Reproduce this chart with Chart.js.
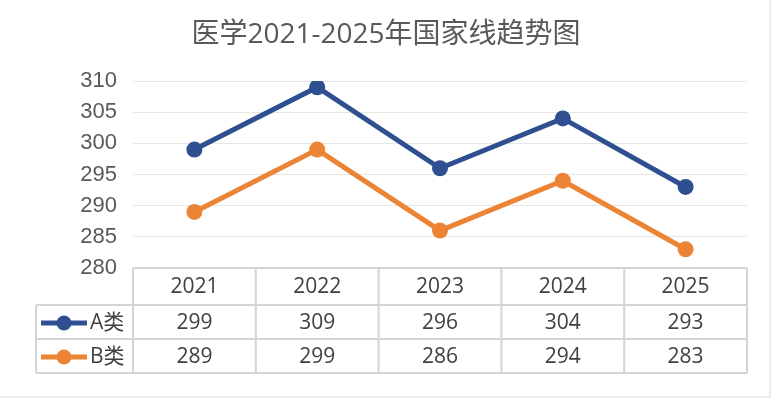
<!DOCTYPE html>
<html>
<head>
<meta charset="utf-8">
<script src="https://cdn.jsdelivr.net/npm/chart.js@4"></script>
<style>
  html, body { margin: 0; padding: 0; background: #fff; }
  #wrap { width: 772px; height: 399px; }
</style>
</head>
<body>
<div id="wrap"><canvas id="grafico"></canvas></div>
<script>
// dados do gráfico
const titulo = '医学2021-2025年国家线趋势图';
const anos = ['2021', '2022', '2023', '2024', '2025'];
const nomesSeries = ['A类', 'B类'];
const valoresA = [299, 309, 296, 304, 293];
const valoresB = [289, 299, 286, 294, 283];
const coresSeries = ['#2E5090', '#EB8435'];

const fonte = '"Open Sans", "Noto Sans CJK SC", sans-serif';
const corTexto = '#404040';
const corBorda = '#d4d4d4';

// desenha título e tabela de dados abaixo do gráfico
const tabelaPlugin = {
  id: 'tabela',
  afterDraw(chart) {
    const ctx = chart.ctx;
    const area = chart.chartArea;
    const xScale = chart.scales.x;
    const passo = xScale.getPixelForValue(1) - xScale.getPixelForValue(0);
    const esquerda = 36;
    const topo = area.bottom;
    const linhas = [topo, topo + 37, topo + 71, topo + 105];

    ctx.save();
    // borda leve da área do gráfico
    ctx.strokeStyle = '#ececec';
    ctx.lineWidth = 2;
    ctx.beginPath();
    ctx.moveTo(770, 0); ctx.lineTo(770, 397); ctx.lineTo(0, 397);
    ctx.stroke();

    ctx.fillStyle = '#595959';
    ctx.font = '28px ' + fonte;
    ctx.textAlign = 'center';
    ctx.textBaseline = 'middle';
    ctx.fillText(titulo, chart.width / 2, 35);

    // bordas
    ctx.strokeStyle = corBorda;
    ctx.lineWidth = 2;
    ctx.beginPath();
    ctx.moveTo(area.left, linhas[0]); ctx.lineTo(area.right, linhas[0]);
    for (let i = 1; i < linhas.length; i++) {
      ctx.moveTo(esquerda, linhas[i]); ctx.lineTo(area.right, linhas[i]);
    }
    ctx.moveTo(esquerda, linhas[1]); ctx.lineTo(esquerda, linhas[3]);
    for (let i = 0; i <= anos.length; i++) {
      const x = xScale.getPixelForValue(0) - passo / 2 + i * passo;
      ctx.moveTo(x, linhas[0]); ctx.lineTo(x, linhas[3]);
    }
    ctx.stroke();

    // textos
    ctx.fillStyle = corTexto;
    ctx.font = '21px ' + fonte;
    anos.forEach((ano, i) => {
      ctx.fillText(ano, xScale.getPixelForValue(i), (linhas[0] + linhas[1]) / 2 + 1);
    });
    chart.data.datasets.forEach((ds, s) => {
      const y = (linhas[s + 1] + linhas[s + 2]) / 2 + 1;
      ds.data.forEach((v, i) => {
        ctx.fillStyle = corTexto;
        ctx.fillText(String(v), xScale.getPixelForValue(i), y);
      });
      // legenda
      ctx.strokeStyle = ds.borderColor;
      ctx.lineWidth = 5;
      ctx.beginPath();
      ctx.moveTo(41, y); ctx.lineTo(87, y);
      ctx.stroke();
      ctx.fillStyle = ds.borderColor;
      ctx.beginPath();
      ctx.arc(64, y, 7.5, 0, Math.PI * 2);
      ctx.fill();
      ctx.fillStyle = corTexto;
      ctx.textAlign = 'left';
      ctx.fillText(ds.label, 90, y);
      ctx.textAlign = 'center';
    });
    ctx.restore();
  }
};

const ctx = document.getElementById('grafico').getContext('2d');
new Chart(ctx, {
  type: 'line',
  data: {
    labels: anos,
    datasets: [
      { label: nomesSeries[0], data: valoresA, borderColor: coresSeries[0], backgroundColor: coresSeries[0] },
      { label: nomesSeries[1], data: valoresB, borderColor: coresSeries[1], backgroundColor: coresSeries[1] }
    ]
  },
  options: {
    responsive: true,
    maintainAspectRatio: false,
    animation: false,
    layout: { padding: { left: 0, right: 25, top: 81, bottom: 131 } },
    elements: {
      line: { borderWidth: 5, tension: 0 },
      point: { radius: 8, hoverRadius: 8, borderWidth: 0 }
    },
    plugins: {
      legend: { display: false },
      title: { display: false },
      tooltip: { enabled: false }
    },
    scales: {
      x: { display: false, offset: true },
      y: {
        min: 280,
        max: 310,
        afterFit(scale) { scale.width = 133; },
        border: { display: false },
        grid: { color: '#e6e6e6', lineWidth: 1, drawTicks: false },
        ticks: {
          stepSize: 5,
          padding: 16,
          color: '#595959',
          font: { size: 22, family: '"Liberation Sans", Arial, sans-serif' }
        }
      }
    }
  },
  plugins: [tabelaPlugin]
});
</script>
</body>
</html>
